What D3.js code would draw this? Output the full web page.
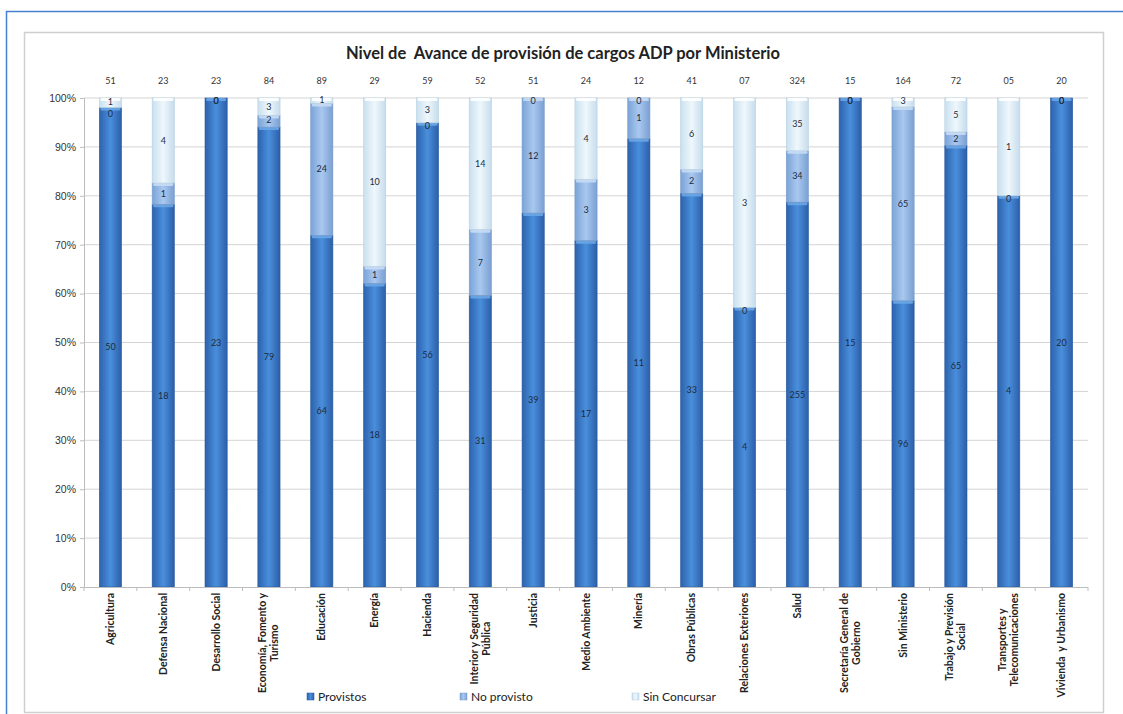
<!DOCTYPE html>
<html>
<head>
<meta charset="utf-8">
<script src="https://cdn.jsdelivr.net/npm/d3@7"></script>
<style>
  html, body { margin: 0; padding: 0; background: #fff; }
  svg { display: block; font-family: "Lato", "Open Sans", sans-serif; }
  svg text { white-space: pre; }
</style>
</head>
<body>
<svg id="chart" width="1123" height="714"></svg>
<script>
// Ministries (x-axis categories); "\n" splits wrapped labels
const ministerios = [
  "Agricultura", "Defensa Nacional", "Desarrollo Social", "Economía, Fomento y\nTurismo",
  "Educación", "Energía", "Hacienda", "Interior y Seguridad\nPública", "Justicia",
  "Medio Ambiente", "Minería", "Obras Públicas", "Relaciones Exteriores", "Salud",
  "Secretaría General de\nGobierno", "Sin Ministerio", "Trabajo y Previsión\nSocial",
  "Transportes y\nTelecomunicaciones", "Vivienda  y Urbanismo"
];
// Counts per series
const provistos     = [50, 18, 23, 79, 64, 18, 56, 31, 39, 17, 11, 33, 4, 255, 15, 96, 65, 4, 20];
const noProvisto    = [0, 1, 0, 2, 24, 1, 0, 7, 12, 3, 1, 2, 0, 34, 0, 65, 2, 0, 0];
const sinConcursar  = [1, 4, 0, 3, 1, 10, 3, 14, 0, 4, 0, 6, 3, 35, 0, 3, 5, 1, 0];
// Totals printed above each column
const totales = ["51", "23", "23", "84", "89", "29", "59", "52", "51", "24", "12", "41", "07", "324", "15", "164", "72", "05", "20"];
const series = ["Provistos", "No provisto", "Sin Concursar"];
const yTicks = [0, 0.1, 0.2, 0.3, 0.4, 0.5, 0.6, 0.7, 0.8, 0.9, 1];

const svg = d3.select("#chart");
const W = 1123, H = 714;
const m = { left: 84, right: 1088, top: 98, bottom: 587 };

// Frames
svg.append("rect").attr("x", 6.5).attr("y", 11.5).attr("width", W + 10).attr("height", H + 10)
  .attr("fill", "none").attr("stroke", "#4a7fd0").attr("stroke-width", 1.5);
svg.append("rect").attr("x", 24.5).attr("y", 32.5).attr("width", 1079).attr("height", 680)
  .attr("fill", "#fff").attr("stroke", "#cfcfcf").attr("stroke-width", 1.5);

// Gradients per series (cylinder-like shading)
const defs = svg.append("defs");
const palettes = [
  ["#2c62ad", "#4a8fdc", "#2c5ea8"],
  ["#7aa3d8", "#a9c8ef", "#7a9fd2"],
  ["#c9e0ef", "#eef7fc", "#c6dcec"]
];
palettes.forEach((p, i) => {
  const g = defs.append("linearGradient").attr("id", "g" + i).attr("x1", 0).attr("x2", 1).attr("y1", 0).attr("y2", 0);
  g.append("stop").attr("offset", "0%").attr("stop-color", p[0]);
  g.append("stop").attr("offset", "50%").attr("stop-color", p[1]);
  g.append("stop").attr("offset", "100%").attr("stop-color", p[2]);
});
const capColors = ["#6aa6e6", "#c6dcf5", "#ffffff"];
const edgeColors = ["#2a5a9e", "#7a9cc8", "#b8cfdf"];

const x = d3.scaleBand().domain(ministerios).range([m.left, m.right]).paddingInner(0.58).paddingOuter(0.29);
const y = d3.scaleLinear().domain([0, 1]).range([m.bottom, m.top]);

// Gridlines
svg.append("g").selectAll("line").data(yTicks.filter(t => t > 0)).join("line")
  .attr("x1", m.left).attr("x2", m.right)
  .attr("y1", d => y(d)).attr("y2", d => y(d))
  .attr("stroke", "#d4d4d4").attr("stroke-width", 1);

// Y axis
const yAxis = svg.append("g").attr("transform", `translate(${m.left},0)`)
  .call(d3.axisLeft(y).tickValues(yTicks).tickFormat(d3.format(".0%")).tickSize(4));
yAxis.select(".domain").attr("stroke", "#bdbdbd");
yAxis.selectAll(".tick line").attr("stroke", "#bdbdbd");
yAxis.selectAll("text").attr("font-size", 10.5).attr("fill", "#333").attr("x", -8);

// Stacked data in shares
const rows = ministerios.map((name, i) => {
  const vals = [provistos[i], noProvisto[i], sinConcursar[i]];
  const total = d3.sum(vals);
  let acc = 0;
  return vals.map((v, k) => {
    const y0 = acc / total; acc += v;
    return { name, k, v, y0, y1: acc / total };
  });
});

const bw = x.bandwidth();
const barG = svg.append("g");
rows.forEach(segs => {
  segs.forEach(s => {
    if (s.v === 0) return;
    const x0 = x(s.name);
    const top = y(s.y1), bot = y(s.y0);
    barG.append("rect").attr("x", x0).attr("y", top).attr("width", bw).attr("height", bot - top)
      .attr("fill", `url(#g${s.k})`).attr("stroke", edgeColors[s.k]).attr("stroke-width", 0.6);
    barG.append("rect").attr("x", x0 + 1).attr("y", top).attr("width", bw - 2).attr("height", Math.min(3, bot - top))
      .attr("rx", 1.5).attr("fill", capColors[s.k]).attr("opacity", 0.9);
  });
});

// Value labels inside segments; zero-height segments are labelled at their boundary
const lblG = svg.append("g").attr("font-size", 9).attr("fill", "#1d2b3e").attr("text-anchor", "middle");
rows.forEach(segs => {
  segs.forEach((s, j) => {
    const cx = x(s.name) + bw / 2;
    let cy;
    if (s.v === 0) {
      cy = y(s.y1) + 6;
      // keep clear of a thin labelled segment stacked right above
      const above = segs.slice(j + 1).find(o => o.v > 0);
      if (above && y(above.y0) - y(above.y1) < 12) cy = y(s.y1) + 9;
    } else {
      const h = y(s.y0) - y(s.y1);
      cy = h < 12 ? y(s.y1) + h / 2 + 2 : (y(s.y0) + y(s.y1)) / 2 + 3;
    }
    lblG.append("text").attr("x", cx).attr("y", cy).text(s.v);
  });
});

// Totals above columns
svg.append("g").selectAll("text").data(ministerios).join("text")
  .attr("x", d => x(d) + bw / 2).attr("y", 84)
  .attr("text-anchor", "middle").attr("font-size", 9).attr("fill", "#333")
  .text((d, i) => totales[i]);

// X axis line and ticks between categories
svg.append("line").attr("x1", m.left).attr("x2", m.right).attr("y1", m.bottom + 0.5).attr("y2", m.bottom + 0.5)
  .attr("stroke", "#bdbdbd");
svg.append("g").selectAll("line").data(d3.range(ministerios.length + 1)).join("line")
  .attr("x1", i => m.left + i * (m.right - m.left) / ministerios.length)
  .attr("x2", i => m.left + i * (m.right - m.left) / ministerios.length)
  .attr("y1", m.bottom).attr("y2", m.bottom + 4).attr("stroke", "#bdbdbd");

// Rotated category labels
const xl = svg.append("g").attr("font-size", 10.5).attr("font-weight", "bold").attr("fill", "#222");
ministerios.forEach(name => {
  const lines = name.split("\n");
  const cx = x(name) + bw / 2;
  const t = xl.append("text")
    .attr("transform", `translate(${cx},${m.bottom + 6}) rotate(-90)`)
    .attr("text-anchor", "end");
  const n = lines.length;
  lines.forEach((ln, j) => {
    t.append("tspan").attr("x", 0).attr("dy", j === 0 ? (3.5 - (n - 1) * 6) : 12)
      .attr("text-anchor", n > 1 ? "middle" : "end")
      .text(ln);
  });
  if (n > 1) {
    // center wrapped lines on the widest line
    const wmax = d3.max(t.selectAll("tspan").nodes(), nd => nd.getComputedTextLength());
    t.selectAll("tspan").attr("x", -wmax / 2);
  }
});

// Title
svg.append("text").attr("x", 563).attr("y", 59).attr("text-anchor", "middle")
  .attr("font-size", 16.5).attr("font-weight", "bold").attr("fill", "#222")
  .text("Nivel de  Avance de provisión de cargos ADP por Ministerio");

// Legend
const legX = [307, 460, 632];
const leg = svg.append("g");
series.forEach((s, i) => {
  leg.append("rect").attr("x", legX[i]).attr("y", 693).attr("width", 7).attr("height", 7)
    .attr("fill", `url(#g${i})`).attr("stroke", edgeColors[i]).attr("stroke-width", 0.5);
  leg.append("text").attr("x", legX[i] + 11).attr("y", 701)
    .attr("font-size", 12).attr("fill", "#222").text(s);
});
</script>
</body>
</html>
